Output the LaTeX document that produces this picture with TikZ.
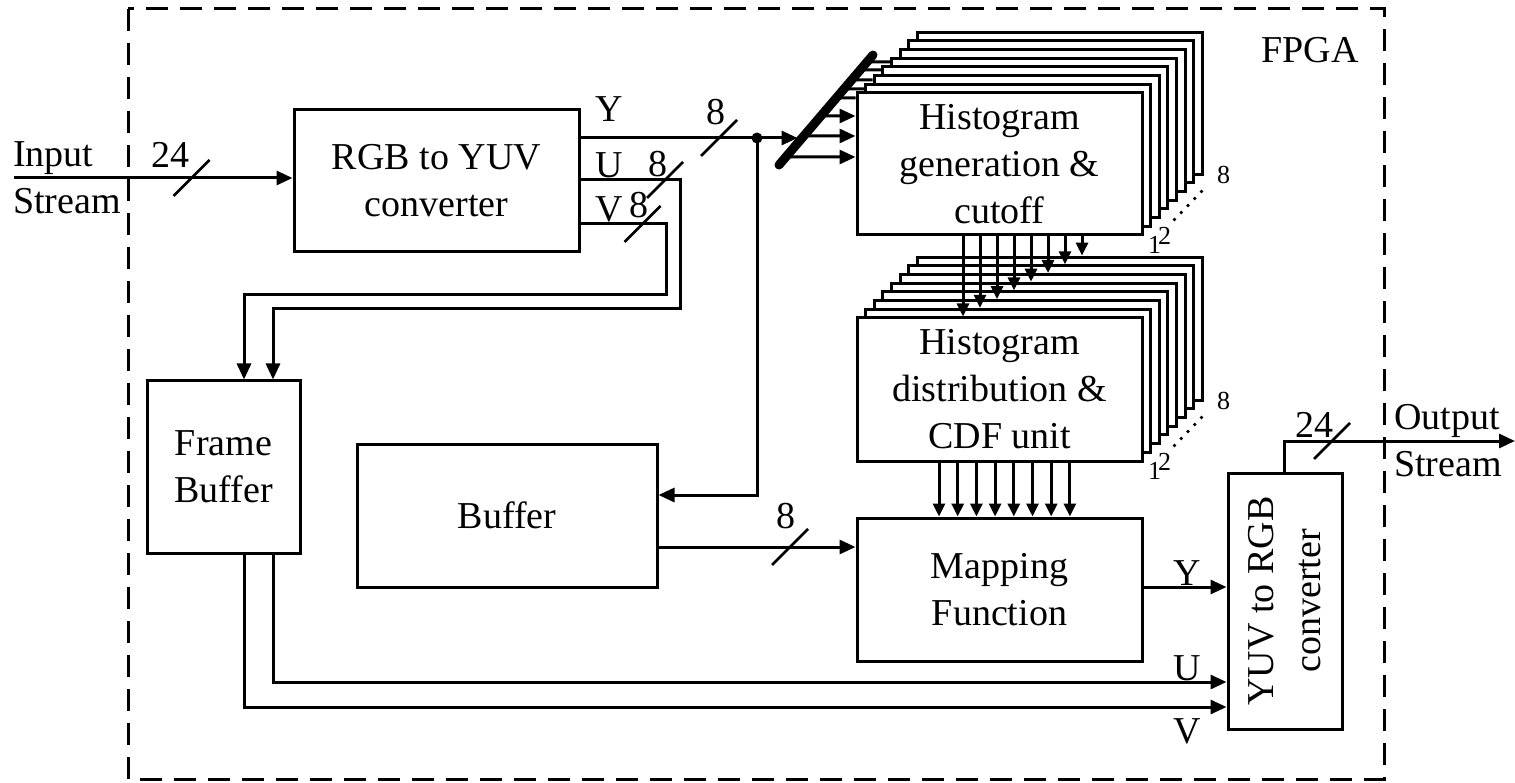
\documentclass[tikz,border=0pt]{standalone}
\usepackage{fontspec}
\setmainfont{Liberation Serif}
\usetikzlibrary{arrows.meta,calc}

\begin{document}
\begin{tikzpicture}[x=1pt,y=-1pt,line join=miter,
  font=\fontsize{38}{47}\selectfont,
  blk/.style={draw,line width=3pt,fill=white,align=center,inner sep=0pt},
  sig/.style={line width=3pt},
  arr/.style={sig,-{Triangle[length=16pt,width=14pt]}},
  arrs/.style={sig,-{Triangle[length=13pt,width=12pt]}},
  lbl/.style={anchor=base,inner sep=0pt},
  idx/.style={anchor=base,inner sep=0pt,font=\fontsize{26}{30}\selectfont},
  buswidth/.pic={\draw[line width=2.8pt] (-18,18) -- (18,-18);}]
\useasboundingbox (0,0) rectangle (1515,783);

% ---- FPGA boundary ----
\draw[line width=3pt,dash pattern=on 22pt off 12pt] (128,9) rectangle (1384,779);
\node[anchor=base east,inner sep=0pt] (fpga) at (1359,63) {FPGA};

% ---- single blocks ----
\node[blk,minimum width=285pt,minimum height=142pt] (rgb) at (436.5,181) {RGB to YUV\\converter};
\node[blk,minimum width=153pt,minimum height=172pt] (fb) at (223.5,467) {Frame\\Buffer};
\node[blk,minimum width=300pt,minimum height=143pt] (buf) at (507,515.5) {Buffer};
\node[blk,minimum width=285pt,minimum height=143pt] (map) at (999.5,589.5) {Mapping\\Function};
\node[blk,minimum width=114pt,minimum height=256pt] (yuv) at (1285,601) {};
\node[rotate=90,align=center,inner sep=0pt] (yuvtxt) at (yuv.center) {YUV to RGB\\converter};

% ---- stacked units, back to front ----
\foreach \k in {7,...,1}{
  \node[blk,minimum width=285pt,minimum height=142pt] (hg\k) at (999.5+8.6*\k,164-8.7*\k) {};}
\node[blk,minimum width=285pt,minimum height=142pt] (hg0) at (999.5,164)
  {Histogram\\generation \&\\cutoff};
\foreach \k in {7,...,1}{
  \node[blk,minimum width=285pt,minimum height=143pt] (hd\k) at (999.5+8.6*\k,389.5-8.7*\k) {};}
\node[blk,minimum width=285pt,minimum height=143pt] (hd0) at (999.5,389.5)
  {Histogram\\distribution \&\\CDF unit};

% ---- stack indices 1 2 ... 8 ----
\foreach \s in {hg,hd}{
  \node[idx] (\s one) at ($(\s0.south east)+(11,17)$) {1};
  \node[idx] (\s two) at ($(\s0.south east)+(21,8)$) {2};
  \node[idx] (\s eight) at ($(\s0.south east)+(80,-53)$) {8};
  \foreach \i in {0,...,4}
    \fill ($(\s0.south east)+(31+6.75*\i,-17-7*\i)$) circle[radius=1.8pt];}

% ---- input side ----
\node[anchor=west,align=left,inner sep=0pt] (instr) at (13,178) {Input\\Stream};
\coordinate (in) at (14,178);
\draw[arr] (in) -- (rgb.west |- in);
\pic at (191.5,178) {buswidth};
\node[lbl] (lin) at (170,168) {24};

% ---- Y path: tap, splitter bar, buffer ----
\coordinate (bar1) at (779,165);
\coordinate (bar2) at (873,55);
\coordinate (ytap) at ($(bar1)!{27/110}!(bar2)$);
\node[circle,fill,inner sep=0pt,minimum size=11pt] (dot) at (757,138) {};
\draw[arr,shorten >=4.5pt] (rgb.east |- ytap) -- (ytap);
\foreach \y/\k/\tip in {157/0/arr,136/0/arr,116/0/arr,98/0/sig,89/1/sig,80/2/sig,70/3/sig,62/4/sig}{
  \coordinate (yy) at (0,\y);
  \draw[\tip] ($(bar1)!{(165-\y)/110}!(bar2)$) -- (hg\k.west |- yy);}
\draw[line width=9pt,line cap=round] (bar1) -- (bar2);
\pic at (719,138) {buswidth};
\node[lbl] (ly8) at (716,125) {8};
\node[lbl] (ly) at (609.5,122) {Y};
\coordinate (bufin) at (757,495);
\draw[arr] (dot.center) -- (bufin) -- (buf.east |- bufin);

% ---- U and V to frame buffer ----
\coordinate (u1) at (680,180);
\coordinate (u2) at (273,309);
\draw[arr] (rgb.east |- u1) -- (u1) |- (u2) -- (fb.north -| u2);
\coordinate (v1) at (666,224);
\coordinate (v2) at (244,295);
\draw[arr] (rgb.east |- v1) -- (v1) |- (v2) -- (fb.north -| v2);
\pic at (665,180) {buswidth};
\node[lbl] (lu8) at (658,177) {8};
\node[lbl] (lu) at (609,178) {U};
\pic at (642.5,224) {buswidth};
\node[lbl] (lv8) at (639,218) {8};
\node[lbl] (lv) at (609,222) {V};

% ---- stack to stack to mapping ----
\foreach \k in {0,...,7}{
  \coordinate (c) at (963+17*\k,0);
  \draw[arrs] (hg0.south -| c) -- (hd\k.north -| c);
  \coordinate (m) at (939+18.7*\k,0);
  \draw[arrs] (hd0.south -| m) -- (map.north -| m);}

% ---- buffer to mapping ----
\coordinate (bufout) at (0,547);
\draw[arr] (buf.east |- bufout) -- (map.west |- bufout);
\pic at (790,547) {buswidth};
\node[lbl] (lb8) at (786,528) {8};

% ---- into YUV to RGB ----
\coordinate (ym) at (0,587);
\draw[arr] (map.east |- ym) -- (yuv.west |- ym);
\coordinate (u3) at (273,682);
\draw[arr] (fb.south -| u3) -- (u3) -- (yuv.west |- u3);
\coordinate (v3) at (244,707);
\draw[arr] (fb.south -| v3) -- (v3) -- (yuv.west |- v3);
\node[lbl] (ry) at (1187,585) {Y};
\node[lbl] (ru) at (1187,680) {U};
\node[lbl] (rv) at (1187,743) {V};

% ---- output side ----
\coordinate (o1) at (1284,441);
\coordinate (out) at (1515,441);
\draw[arr] (yuv.north -| o1) -- (o1) -- (out);
\pic at (1332,441) {buswidth};
\node[lbl] (lout) at (1314,437) {24};
\node[anchor=west,align=left,inner sep=0pt] (outstr) at (1394,441) {Output\\Stream};
\end{tikzpicture}
\end{document}
